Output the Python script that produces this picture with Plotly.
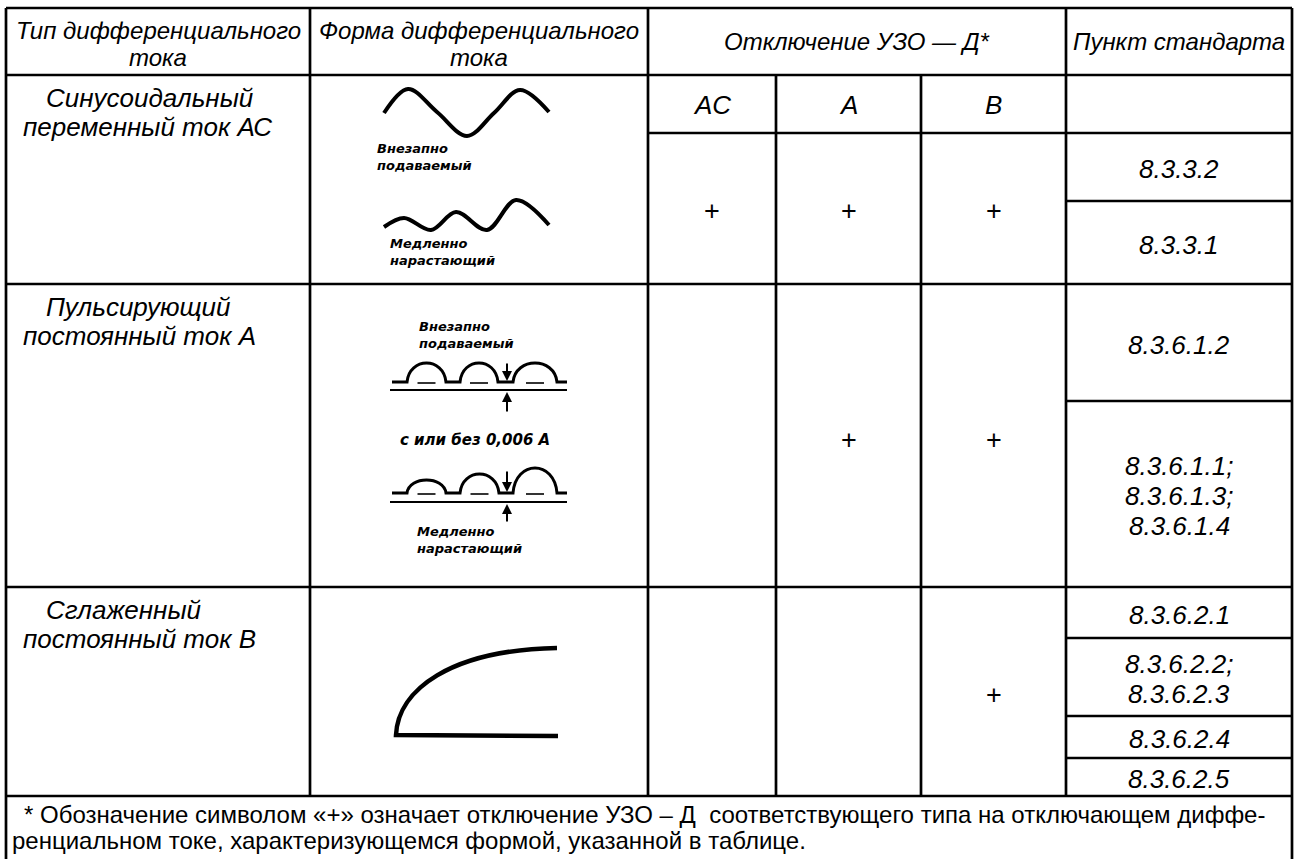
import plotly.graph_objects as go

# ---------------- table content ----------------
HEAD_TYPE = ["Тип дифференциального", "тока"]
HEAD_FORM = ["Форма дифференциального", "тока"]
HEAD_TRIP = "Отключение УЗО — Д*"
HEAD_CLAUSE = "Пункт стандарта"
RCD_TYPES = ["AC", "A", "B"]
CURRENT_KINDS = [
    ["Синусоидальный", "переменный ток АС"],
    ["Пульсирующий", "постоянный ток А"],
    ["Сглаженный", "постоянный ток В"],
]
TRIP_MARKS = [["+", "+", "+"], ["", "+", "+"], ["", "", "+"]]
CLAUSES = [
    [["8.3.3.2"], ["8.3.3.1"]],
    [["8.3.6.1.2"], ["8.3.6.1.1;", "8.3.6.1.3;", "8.3.6.1.4"]],
    [["8.3.6.2.1"], ["8.3.6.2.2;", "8.3.6.2.3"], ["8.3.6.2.4"], ["8.3.6.2.5"]],
]
LABEL_SUDDEN = ["Внезапно", "подаваемый"]
LABEL_SLOW = ["Медленно", "нарастающий"]
LABEL_OFFSET = "с или без 0,006 А"
FOOTNOTE = [
    "* Обозначение символом «+» означает отключение УЗО – Д\u00a0 соответствующего типа на отключающем диффе-",
    "ренциальном токе, характеризующемся формой, указанной в таблице.",
]

# sketch points (pixel space of the sheet)
AC_SUDDEN_X = [384, 408, 437, 467, 494, 520, 549]
AC_SUDDEN_Y = [113, 89, 112, 136, 113, 90, 112]
AC_SLOW_X = [384, 404, 431, 456, 487, 516, 549]
AC_SLOW_Y = [227, 218, 230, 212, 230, 200, 225]
PULSE_SUDDEN_HUMPS = [(407, 446, 363), (460, 498, 363), (513, 557, 363)]
PULSE_SLOW_HUMPS = [(407, 446, 480), (460, 499, 474), (513, 557, 468)]

# ---------------- layout geometry ----------------
W, H = 1296, 859
COLS = [6, 310, 648, 776, 921, 1066, 1292]
TOP, HEAD_BOT, SUB_BOT = 8, 75, 133
ROWS = [75, 284, 587, 796]
CLAUSE_CELLS = [[133, 201, 284], [284, 401, 587], [587, 638, 716, 758, 796]]
LW = 2.7
FONT = "Liberation Sans, Arial, sans-serif"
SKETCH_FONT = "DejaVu Sans, sans-serif"

fig = go.Figure()
shapes = []
ann = []


def hline(y, x0, x1, w=LW):
    shapes.append(dict(type="line", xref="x", yref="y", x0=x0, x1=x1, y0=y, y1=y,
                       line=dict(color="black", width=w)))


def vline(x, y0, y1, w=LW):
    shapes.append(dict(type="line", xref="x", yref="y", x0=x, x1=x, y0=y0, y1=y1,
                       line=dict(color="black", width=w)))


def text(x, y, s, size=24, italic=True, xanchor="center", family=FONT, weight="normal"):
    ann.append(dict(x=x, y=y, xref="x", yref="y", text=s, showarrow=False,
                    xanchor=xanchor, yanchor="middle", align="left" if xanchor == "left" else "center",
                    font=dict(family=family, size=size, color="black", weight=weight,
                              style="italic" if italic else "normal")))


# grid
hline(TOP, COLS[0], COLS[-1])
hline(HEAD_BOT, COLS[0], COLS[-1])
hline(SUB_BOT, COLS[2], COLS[-1])
for r in ROWS[1:]:
    hline(r, COLS[0], COLS[-1])
for cells in CLAUSE_CELLS:
    for y in cells[1:-1]:
        hline(y, COLS[5], COLS[6])
vline(COLS[0], TOP, H)
vline(COLS[-1], TOP, H)
for c in (COLS[1], COLS[2], COLS[5]):
    vline(c, TOP, ROWS[-1])
for c in (COLS[3], COLS[4]):
    vline(c, HEAD_BOT, ROWS[-1])

# headers
cx = [(COLS[i] + COLS[i + 1]) / 2 for i in range(len(COLS) - 1)]
for i, line in enumerate(HEAD_TYPE):
    text(cx[0], 30 + 27 * i, line, size=24)
for i, line in enumerate(HEAD_FORM):
    text(cx[1], 30 + 27 * i, line, size=24)
text((COLS[2] + COLS[5]) / 2, 41, HEAD_TRIP, size=24)
text(cx[5], 41, HEAD_CLAUSE, size=24)
for j, t in enumerate(RCD_TYPES):
    text(cx[2 + j], 105, t, size=26)

# current kinds
for r, lines in enumerate(CURRENT_KINDS):
    y0 = ROWS[r] + 23
    text(44, y0, lines[0], size=26, xanchor="left")
    text(21, y0 + 29, lines[1], size=26, xanchor="left")

# trip marks
mark_y = [211, 440, 695]
for r, row in enumerate(TRIP_MARKS):
    for j, m in enumerate(row):
        if m:
            text(cx[2 + j], mark_y[r], m, size=27, italic=False)

# clauses
for r, cells in enumerate(CLAUSES):
    bounds = CLAUSE_CELLS[r]
    for k, lines in enumerate(cells):
        mid = (bounds[k] + bounds[k + 1]) / 2 + 2
        n = len(lines)
        for i, line in enumerate(lines):
            text(cx[5], mid + (i - (n - 1) / 2) * 30, line, size=26)

# footnote
text(22, 814, FOOTNOTE[0], size=24, italic=False, xanchor="left")
text(10, 840, FOOTNOTE[1], size=24, italic=False, xanchor="left")

# ---- sketches ----
for xs, ys in ((AC_SUDDEN_X, AC_SUDDEN_Y), (AC_SLOW_X, AC_SLOW_Y)):
    fig.add_trace(go.Scatter(x=xs, y=ys, mode="lines",
                             line=dict(color="black", width=4, shape="spline", smoothing=1.0),
                             hoverinfo="skip", showlegend=False))


def sketch_label(x, y, lines, size=13):
    text(x, y, "<br>".join(lines), size=size, xanchor="left", family=SKETCH_FONT, weight="bold")


sketch_label(375, 157, LABEL_SUDDEN)
sketch_label(388, 252, LABEL_SLOW)


def pulse_path(humps, base, x_start, x_end):
    p = f"M{x_start},{base}"
    for x0, x1, peak in humps:
        c = base - (base - peak) / 0.75
        w = x1 - x0
        p += f" L{x0},{base} C{x0 + 0.06 * w},{c} {x1 - 0.06 * w},{c} {x1},{base}"
    p += f" L{x_end},{base}"
    return p


for humps, base, axis_y, arrow_top, arrow_bot in (
        (PULSE_SUDDEN_HUMPS, 382, 390, 362, 413),
        (PULSE_SLOW_HUMPS, 493, 502, 470, 523)):
    shapes.append(dict(type="path", xref="x", yref="y", path=pulse_path(humps, base, 392, 567),
                       line=dict(color="black", width=3)))
    hline(axis_y, 390, 567, w=2.2)
    for x0, x1, _ in humps:
        m = (x0 + x1) / 2
        hline(base + 1, m - 9, m + 9, w=1.6)
    ann.append(dict(x=507, y=base - 1, ax=507, ay=arrow_top, xref="x", yref="y",
                    axref="x", ayref="y", text="", showarrow=True, arrowhead=2,
                    arrowsize=1, arrowwidth=2, arrowcolor="black", standoff=0))
    ann.append(dict(x=507, y=axis_y + 2, ax=507, ay=arrow_bot, xref="x", yref="y",
                    axref="x", ayref="y", text="", showarrow=True, arrowhead=2,
                    arrowsize=1, arrowwidth=2, arrowcolor="black", standoff=0))

sketch_label(417, 335, LABEL_SUDDEN)
text(475, 440, LABEL_OFFSET, size=15, family=SKETCH_FONT, weight="bold")
sketch_label(415, 540, LABEL_SLOW)

# smoothed DC sketch
shapes.append(dict(type="path", xref="x", yref="y",
                   path="M557,648 C450,650 398,690 396,735 L558,736",
                   line=dict(color="black", width=4.5)))

fig.update_layout(
    width=W, height=H, autosize=False,
    margin=dict(l=0, r=0, t=0, b=0, pad=0),
    paper_bgcolor="white", plot_bgcolor="white",
    xaxis=dict(range=[0, W], visible=False, fixedrange=True),
    yaxis=dict(range=[H, 0], visible=False, fixedrange=True),
    shapes=shapes, annotations=ann, showlegend=False,
)

fig.write_html("out.html", config={"displayModeBar": False, "staticPlot": True},
               post_script="document.body.style.margin='0';document.body.style.overflow='hidden';")
